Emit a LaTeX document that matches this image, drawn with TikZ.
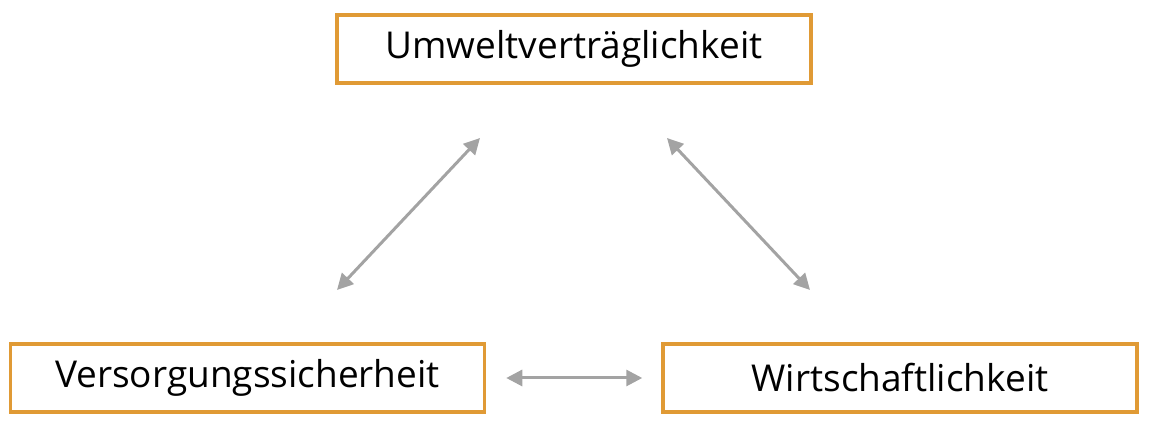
\documentclass[tikz,border=0pt]{standalone}
\usepackage{fontspec}
\setmainfont{Open Sans}
\usetikzlibrary{arrows.meta}
\definecolor{rahmen}{HTML}{E09A35}
\definecolor{pfeil}{HTML}{A3A3A3}

\begin{document}
\begin{tikzpicture}[x=1pt,y=1pt,
	ziel/.style={draw=rahmen,line width=3.5pt,minimum width=474pt,minimum height=68pt,inner sep=0pt,
		font=\fontsize{37}{44}\selectfont},
	bez/.style={draw=pfeil,line width=3pt,{Triangle[length=16pt,width=16pt]}-{Triangle[length=16pt,width=16pt]}}]
	\useasboundingbox (0,0) rectangle (1160,427);
	%ZIELE
	\node[ziel] (uv) at (574,378) {Umweltverträglichkeit};
	\node[ziel] (vs) at (247.5,49) {Versorgungssicherheit};
	\node[ziel] (ws) at (900,49) {Wirtschaftlichkeit};
	
	%PFEILE
	\coordinate (l1) at (337,137);
	\coordinate (l2) at (480,289);
	\coordinate (r1) at (667,289);
	\coordinate (r2) at (810,137);
	\draw[bez] (l1) -- (l2);
	\draw[bez] (r1) -- (r2);
	\draw[bez,shorten <=20pt,shorten >=19pt] (vs) -- (ws);
	
\end{tikzpicture}
\end{document}
